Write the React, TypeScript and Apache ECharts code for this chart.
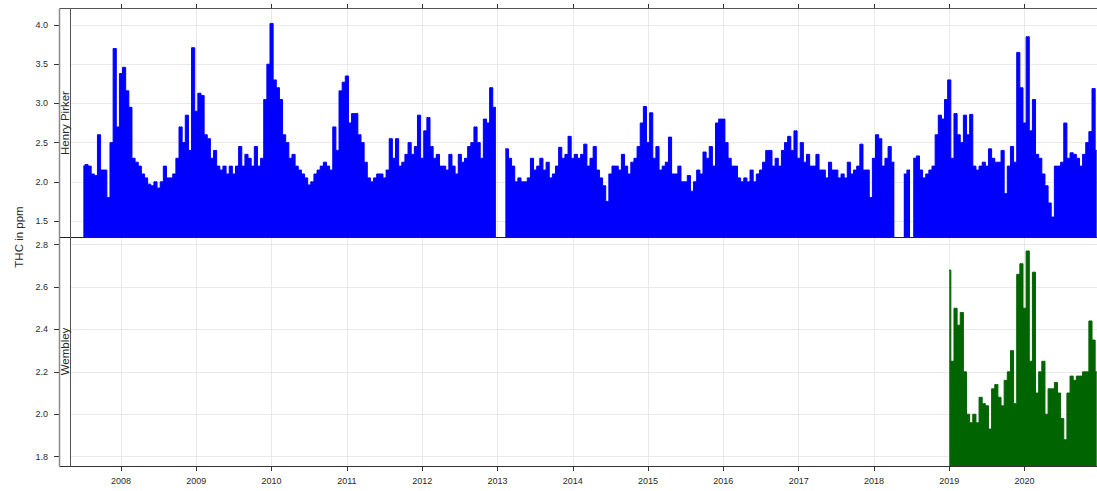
import React, { useEffect, useRef } from "react";
import * as echarts from "echarts";

// ---- data ----
const panelNames = ["Henry Pirker", "Wembley"];
const yAxisTitle = "THC in ppm";
const yearTicks = [2008, 2009, 2010, 2011, 2012, 2013, 2014, 2015, 2016, 2017, 2018, 2019, 2020];
const henryPirkerTicks = [1.5, 2.0, 2.5, 3.0, 3.5, 4.0];
const wembleyTicks = [1.8, 2.0, 2.2, 2.4, 2.6, 2.8];

// semi-monthly readings (24 per year)
const samplesPerYear = 24;
const henryPirkerStart = 2007.5;
const henryPirker: (number | null)[] = [
  // 2007 (second half)
  2.2, 2.22, 2.2, 2.1, 2.08, 2.6, 2.15, 2.15, 1.8, 2.5, 3.7, 2.7,
  // 2008
  3.38, 3.46, 3.16, 2.95, 2.3, 2.25, 2.2, 2.1, 2.05, 1.97, 1.95, 2.0, 1.92, 2.0, 2.2, 2.05, 2.05, 2.1, 2.3, 2.7, 2.5, 2.85, 2.4, 3.71,
  // 2009
  2.9, 3.13, 3.1, 2.6, 2.55, 2.3, 2.4, 2.2, 2.15, 2.2, 2.1, 2.2, 2.1, 2.2, 2.45, 2.2, 2.35, 2.3, 2.2, 2.45, 2.2, 2.3, 3.05, 3.5,
  // 2010
  4.02, 3.3, 3.2, 3.05, 2.6, 2.5, 2.3, 2.35, 2.2, 2.15, 2.1, 2.05, 1.96, 2.0, 2.1, 2.15, 2.2, 2.25, 2.2, 2.15, 2.7, 2.4, 3.16, 3.27,
  // 2011
  3.35, 2.75, 2.87, 2.87, 2.6, 2.5, 2.25, 2.05, 2.0, 2.05, 2.1, 2.1, 2.05, 2.15, 2.55, 2.3, 2.55, 2.2, 2.25, 2.35, 2.5, 2.35, 2.45, 2.85,
  // 2012
  2.3, 2.65, 2.82, 2.45, 2.3, 2.35, 2.2, 2.2, 2.15, 2.35, 2.2, 2.1, 2.35, 2.25, 2.3, 2.45, 2.5, 2.7, 2.5, 2.3, 2.8, 2.75, 3.2, 2.95,
  // 2013
  null, null, null, 2.42, 2.3, 2.2, 2.0, 2.05, 2.0, 2.0, 2.05, 2.3, 2.15, 2.2, 2.3, 2.15, 2.25, 2.05, 2.1, 2.2, 2.44, 2.3, 2.35, 2.58,
  // 2014
  2.3, 2.35, 2.3, 2.35, 2.48, 2.2, 2.3, 2.45, 2.15, 2.05, 1.95, 1.75, 2.1, 2.2, 2.2, 2.15, 2.35, 2.2, 2.1, 2.25, 2.3, 2.45, 2.75, 2.96,
  // 2015
  2.5, 2.88, 2.3, 2.45, 2.15, 2.2, 2.25, 2.57, 2.1, 2.1, 2.2, 2.0, 2.0, 2.08, 1.88, 2.0, 2.15, 2.1, 2.38, 2.3, 2.45, 2.2, 2.75, 2.8,
  // 2016
  2.8, 2.5, 2.3, 2.2, 2.2, 2.05, 2.0, 2.05, 2.0, 2.15, 2.0, 2.1, 2.15, 2.25, 2.4, 2.4, 2.2, 2.3, 2.2, 2.4, 2.5, 2.58, 2.4, 2.65,
  // 2017
  2.3, 2.5, 2.25, 2.35, 2.2, 2.2, 2.35, 2.15, 2.15, 2.05, 2.25, 2.15, 2.15, 2.05, 2.1, 2.05, 2.25, 2.1, 2.15, 2.2, 2.48, 2.15, 2.15, 1.8,
  // 2018
  2.3, 2.6, 2.55, 2.2, 2.3, 2.45, 2.25, null, null, null, 2.1, 2.15, null, 2.3, 2.33, 2.15, 2.05, 2.1, 2.15, 2.2, 2.6, 2.85, 2.8, 3.05,
  // 2019
  3.3, 2.3, 2.87, 2.6, 2.5, 2.85, 2.6, 2.86, 2.2, 2.15, 2.2, 2.25, 2.2, 2.42, 2.3, 2.25, 2.25, 2.4, 1.85, 2.2, 2.45, 2.25, 3.65, 3.2,
  // 2020
  2.75, 3.85, 2.65, 3.05, 2.35, 2.3, 2.1, 1.95, 1.73, 1.55, 2.2, 2.2, 2.25, 2.75, 2.3, 2.37, 2.35, 2.3, 2.2, 2.35, 2.5, 2.64, 3.19, 2.4,
];

const wembleyStart = 2019.0;
const wembley: (number | null)[] = [
  // 2019
  2.68, 2.25, 2.5, 2.42, 2.48, 2.2, 2.0, 1.96, 2.0, 1.96, 2.08, 2.05, 2.04, 1.93, 2.12, 2.14, 2.08, 2.04, 2.16, 2.2, 2.3, 2.05, 2.66, 2.71,
  // 2020
  2.5, 2.77, 2.25, 2.67, 2.1, 2.2, 2.25, 2.0, 2.12, 2.12, 2.15, 2.1, 1.98, 1.88, 2.1, 2.18, 2.16, 2.18, 2.18, 2.2, 2.2, 2.44, 2.35, 2.2,
];

const toSeries = (start: number, vals: (number | null)[]) =>
  vals.map((v, i) => [start + i / samplesPerYear, v == null ? "-" : v]);

const FONT = "Liberation Sans, Arial, sans-serif";
const TEXT = "#2a2a2a";
const FRAME = "#333";
const STRIP_EDGE = "#8a8a8a";
const GRIDC = "#e9e9e9";

export default function App() {
  const ref = useRef<HTMLDivElement>(null);
  useEffect(() => {
    if (!ref.current) return;
    const chart = echarts.init(ref.current, undefined, { renderer: "svg" });
    const xMin = 2007.323;
    const xMax = 2020.962;
    const xCommon = (gridIndex: number, position: "top" | "bottom", showLabels: boolean) => ({
      type: "value",
      gridIndex,
      position,
      min: xMin,
      max: xMax,
      axisLine: { show: false },
      axisTick: { show: true, length: 5, customValues: yearTicks, lineStyle: { color: FRAME } },
      axisLabel: {
        show: showLabels,
        customValues: yearTicks,
        margin: 10,
        fontSize: 9,
        fontFamily: FONT,
        color: TEXT,
        formatter: (v: number) => String(Math.round(v)),
      },
      splitLine: { show: true, lineStyle: { color: GRIDC, width: 1 } },
    });
    const yCommon = (gridIndex: number, min: number, max: number, ticks: number[]) => ({
      type: "value",
      gridIndex,
      min,
      max,
      offset: 11,
      axisLine: { show: false },
      axisTick: { show: true, length: 5, customValues: ticks, lineStyle: { color: FRAME } },
      axisLabel: {
        customValues: ticks,
        margin: 11,
        fontSize: 9,
        fontFamily: FONT,
        color: TEXT,
        formatter: (v: number) => v.toFixed(1),
      },
      splitLine: { show: true, lineStyle: { color: GRIDC, width: 1 } },
    });
    const lineSeries = (name: string, idx: number, data: any[], color: string) => ({
      name,
      type: "line",
      xAxisIndex: idx,
      yAxisIndex: idx,
      data,
      step: "middle",
      showSymbol: false,
      symbol: "none",
      connectNulls: false,
      lineStyle: { color, width: 1 },
      itemStyle: { color },
      areaStyle: { color, opacity: 1, origin: "start" },
    });
    const rotText = (text: string, x: number, y: number, size: number) => ({
      type: "text", z: 50, x, y, rotation: Math.PI / 2,
      style: { text, fontSize: size, fontFamily: FONT, fill: TEXT, textAlign: "center", textVerticalAlign: "middle", align: "center", verticalAlign: "middle" },
    });
    chart.setOption({
      animation: false,
      backgroundColor: "#ffffff",
      grid: [
        { left: 70, top: 9, width: 1027, height: 228 },
        { left: 70, top: 237, width: 1027, height: 229 },
      ],
      xAxis: [xCommon(0, "top", false), xCommon(1, "bottom", true)],
      yAxis: [
        yCommon(0, 1.296, 4.204, henryPirkerTicks),
        yCommon(1, 1.756, 2.836, wembleyTicks),
      ],
      series: [
        lineSeries(panelNames[0], 0, toSeries(henryPirkerStart, henryPirker), "#0000ff"),
        lineSeries(panelNames[1], 1, toSeries(wembleyStart, wembley), "#006400"),
      ],
      graphic: [
        { type: "line", z: 50, shape: { x1: 59.5, y1: 8.5, x2: 1100, y2: 8.5 }, style: { stroke: "#555", lineWidth: 1 } },
        { type: "line", z: 50, shape: { x1: 59.5, y1: 237.5, x2: 1100, y2: 237.5 }, style: { stroke: "#222", lineWidth: 1 } },
        { type: "line", z: 50, shape: { x1: 59.5, y1: 466.5, x2: 1100, y2: 466.5 }, style: { stroke: "#333", lineWidth: 1 } },
        { type: "line", z: 50, shape: { x1: 59.5, y1: 8.5, x2: 59.5, y2: 466.5 }, style: { stroke: STRIP_EDGE, lineWidth: 1.5 } },
        { type: "line", z: 50, shape: { x1: 70.5, y1: 8.5, x2: 70.5, y2: 466.5 }, style: { stroke: "#555", lineWidth: 1 } },
        rotText(panelNames[0], 65, 123, 11.5),
        rotText(panelNames[1], 65, 351.5, 11.5),
        rotText(yAxisTitle, 19, 237, 11.5),
      ],
    });
    return () => chart.dispose();
  }, []);
  return <div ref={ref} style={{ position: "absolute", left: 0, top: 0, width: 1097, height: 491 }} />;
}
